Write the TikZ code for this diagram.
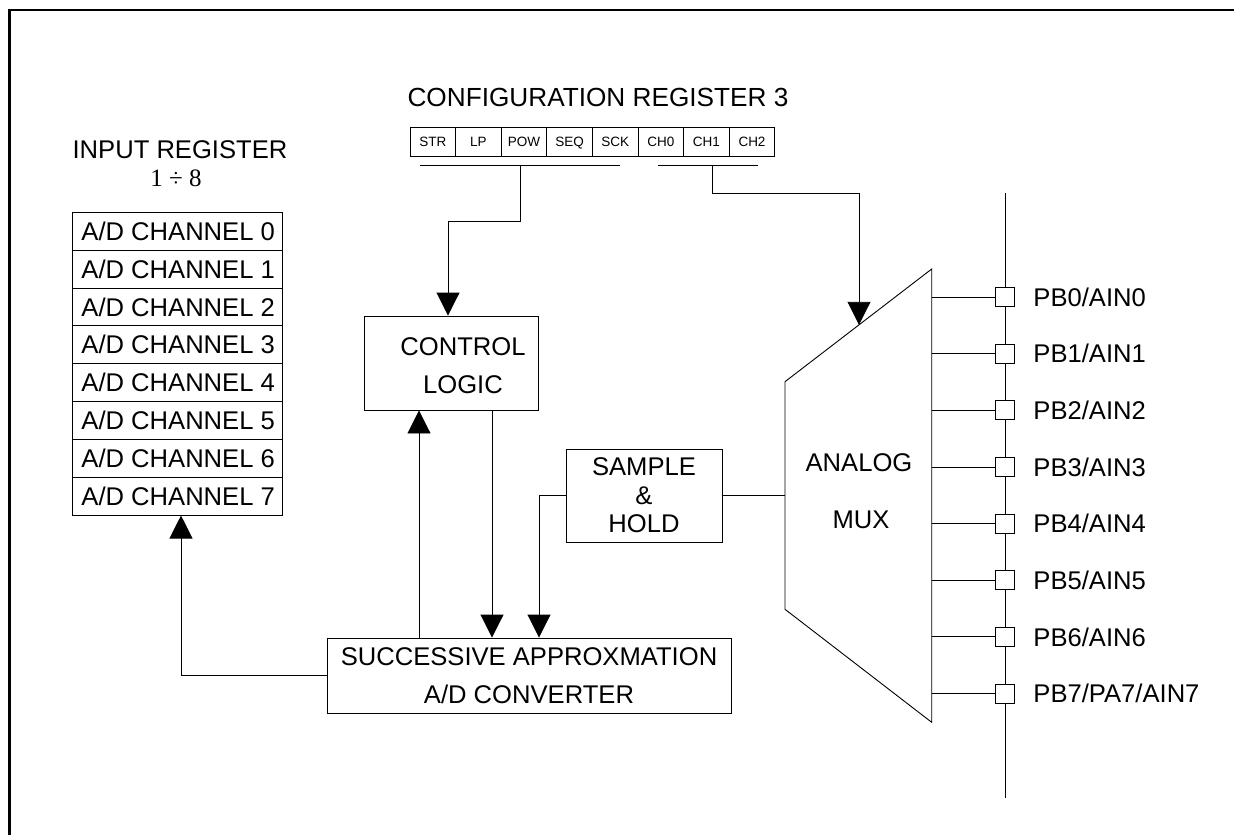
\documentclass[tikz,border=0pt]{standalone}
\usepackage{fontspec}
\setmainfont{Liberation Sans}
\newfontfamily\divfont{Liberation Serif}
\usetikzlibrary{arrows.meta}

\begin{document}
\begin{tikzpicture}[x=1pt, y=-1pt, line width=0.9pt,
  every node/.style={font=\fontsize{25.6}{30}\selectfont, inner sep=0pt},
  blk/.style={draw, fill=white},
  sig/.style={-{Triangle[length=23pt,width=23pt]}},
  cell/.style={draw, minimum width=45.6pt, minimum height=28.3pt, text height=9.7pt, text depth=0pt,
    font=\fontsize{13.5}{15}\selectfont},
  pin/.style={draw, fill=white, minimum width=18.5pt, minimum height=19pt}]
  \useasboundingbox (0,0) rectangle (1234,835);
  \draw[line width=2.6pt] (9.5,850) -- (9.5,10) -- (1250,10);

  % configuration register
  \node[font=\fontsize{26.2}{30}\selectfont] at (598,97) (cfgtitle) {CONFIGURATION REGISTER 3};
  \foreach \lbl [count=\i from 0] in {STR,LP,POW,SEQ,SCK,CH0,CH1,CH2}
    \node[cell] at (432.8+45.6*\i,141.9) (c\i) {\lbl};
  \coordinate (ga) at (420,165); \coordinate (gb) at (620,165);
  \coordinate (gc) at (658,165); \coordinate (gd) at (758,165);
  \draw (ga) -- (gb);
  \draw (gc) -- (gd);

  % input register
  \node at (180,150) (inregtitle) {INPUT REGISTER};
  \node[font=\divfont\fontsize{25}{30}\selectfont] at (176,178) (inregrange) {1 ÷ 8};
  \foreach \i in {0,...,7}
  {
    \node[draw, minimum width=210pt, minimum height=37.85pt] at (177,231.2+37.85*\i) (r\i) {};
    \node[anchor=west] at (81,231.2+37.85*\i) (rt\i) {A/D CHANNEL \i};
  }

  % blocks
  \node[blk, minimum width=174pt, minimum height=94pt] at (451,363) (ctrl) {};
  \node[align=center, font=\fontsize{25.6}{38}\selectfont] at (463,366) (ctrltxt) {CONTROL\\LOGIC};
  \node[blk, minimum width=156pt, minimum height=93pt, align=center,
    font=\fontsize{25.6}{28.5}\selectfont] at (644,495.5) (sh) {SAMPLE\\\&\\HOLD};
  \node[blk, minimum width=404pt, minimum height=75pt, align=center,
    font=\fontsize{25.6}{38}\selectfont] at (529,675.5) (sar) {SUCCESSIVE APPROXMATION\\A/D CONVERTER};

  % analog mux
  \coordinate (mtr) at (931.7,269);
  \coordinate (mtl) at (785,381.7);
  \coordinate (mbl) at (785,609.3);
  \coordinate (mbr) at (931.7,722.3);
  \draw (mtr) -- (mtl) -- (mbl) -- (mbr) -- cycle;
  \node at (859,463) (muxa) {ANALOG};
  \node at (861,520) (muxb) {MUX};

  % port pins
  \coordinate (bustop) at (1005,193); \coordinate (busbot) at (1005,798);
  \draw (bustop) -- (busbot);
  \foreach \lbl [count=\i from 0] in {{PB0/AIN0},{PB1/AIN1},{PB2/AIN2},{PB3/AIN3},
      {PB4/AIN4},{PB5/AIN5},{PB6/AIN6},{PB7/PA7/AIN7}}
  {
    \node[pin] at (1005,297+56.65*\i) (p\i) {};
    \draw (p\i.west -| mtr) -- (p\i.west);
    \node[anchor=west] at (1033,297+56.65*\i) (l\i) {\lbl};
  }

  % connections
  \coordinate (ka) at (520,165); \coordinate (kb) at (448,221);
  \draw[sig] (ka) |- (kb) -- (kb |- ctrl.north);
  \coordinate (kc) at (712,165); \coordinate (kd) at (859,193);
  \coordinate (muxin) at (859,324.8);
  \draw[sig] (kc) |- (kd) -- (muxin);
  \coordinate (ta) at ([xshift=-32pt]ctrl.south);
  \coordinate (tb) at ([xshift=41pt]ctrl.south);
  \draw[sig] (ta |- sar.north) -- (ta);
  \draw[sig] (tb) -- (tb |- sar.north);
  \draw[sig] (sh.west) -| ([xshift=10pt]sar.north);
  \draw (sh.east) -- (sh.east -| mtl);
  \draw[sig] (sar.west) -| ([xshift=4pt]r7.south);
\end{tikzpicture}
\end{document}
